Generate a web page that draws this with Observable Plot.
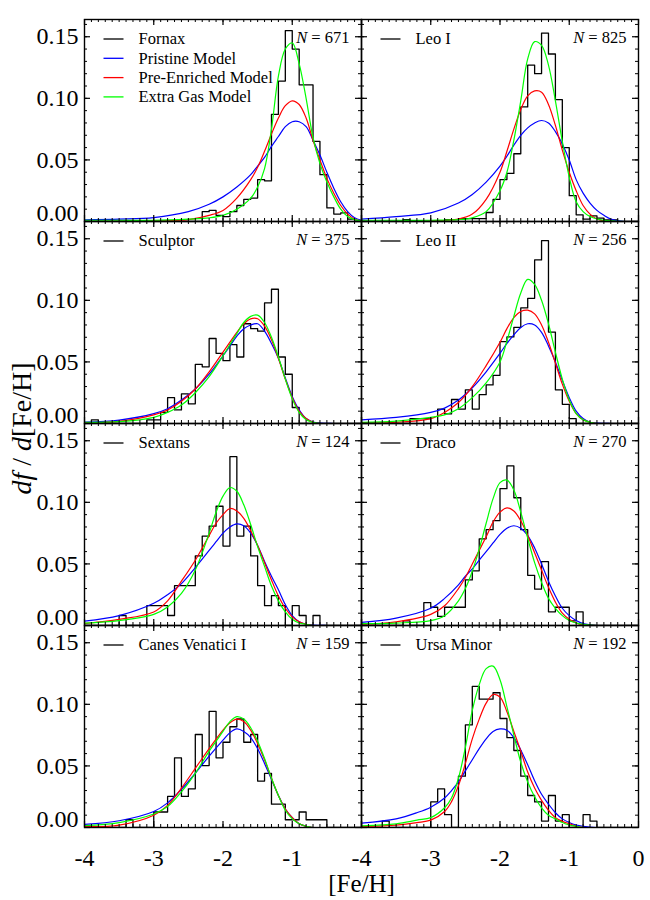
<!DOCTYPE html>
<html>
<head>
<meta charset="utf-8">
<script src="https://cdn.jsdelivr.net/npm/d3@7"></script>
<script src="https://cdn.jsdelivr.net/npm/@observablehq/plot@0.6"></script>
<style>
  body { margin: 0; background: #fff; }
  #chart { width: 650px; height: 900px; }
</style>
</head>
<body>
<div id="chart"></div>
<script>
// ---------- data ----------
const galaxies = ["Fornax", "Leo I", "Sculptor", "Leo II", "Sextans", "Draco", "Canes Venatici I", "Ursa Minor"];
const starCounts = [671, 825, 375, 256, 124, 270, 159, 192];
const modelNames = ["Pristine Model", "Pre-Enriched Model", "Extra Gas Model"];
const modelColors = ["#0000ff", "#ff0000", "#00ff00"];

// histogram heights, bins of 0.1 dex with left edges -4.0, -3.9, ..., -0.1
const histFornax = [
  0,0,0,0,0,0,0,0,0,0,
  0,0,0,0,0,0,0,.008,.009,.005,
  .004,.008,.013,.018,.019,.034,.033,.087,.114,.155,
  .140,.111,.111,.065,.038,.011,.006,.007,.002,0];
const histLeoI = [
  0,0,0,0,0,0,.0015,0,0,0,
  0,0,.0015,.0015,.0024,.0024,.0024,.0024,.0073,.018,
  .034,.039,.055,.093,.127,.120,.153,.136,.099,.060,
  .021,.0054,.0019,.0046,.0027,.0012,.0012,0,0,0];
const histSculptor = [
  0,.003,0,0,0,0,0,0,0,.003,
  .003,.009,.021,.011,.024,.016,.048,.046,.069,.057,
  .051,.064,.054,.081,.077,.075,.098,.109,.054,.040,
  .013,0,0,0,0,0,0,0,0,0];
const histLeoII = [
  0,0,0,0,0,0,0,.0039,.0039,.0039,
  0,.0117,.0078,.0195,.0117,.0273,.0117,.0234,.0313,.0391,
  .0664,.0703,.0781,.0938,.1016,.1328,.1484,.0742,.0273,.0156,
  .0039,0,0,0,0,0,0,0,0,0];
const histSextans = [
  0,0,0,0,0,.0081,0,0,0,.0161,
  .0161,.0161,.0081,.0323,.0323,.0323,.0565,.0726,.0806,.0968,
  .0645,.1371,.0726,.0806,.0565,.0323,.0161,.0242,.0161,0,
  .0161,.0081,0,.0081,0,0,0,0,0,0];
const histDraco = [
  0,0,0,0,0,0,.0037,0,0,.0185,
  .0148,.0074,.0148,.0148,.0148,.0370,.0444,.0704,.0778,.0852,
  .1111,.1296,.1037,.0778,.0407,.0296,.0519,.0111,.0148,.0148,
  .0037,.0111,0,0,0,0,0,0,0,0];
const histCVn = [
  0,0,0,0,0,0,.0063,0,0,0,
  .0126,.0126,.0252,.0566,.0252,.0314,.0755,.0503,.0943,.0566,
  .0692,.0818,.0881,.0692,.0755,.0377,.0440,.0189,.0189,.0063,
  .0063,.0126,.0063,.0063,.0063,0,0,0,0,0];
const histUMi = [
  0,0,0,.0052,0,0,0,0,0,0,
  .0208,.0313,.0104,0,.0417,.0833,.1146,.1042,.1042,.1094,
  .0885,.0729,.0625,.0417,.0260,.0208,.0052,.0260,.0052,.0104,
  0,0,.0104,.0052,0,0,0,0,0,0];

const gridFornax = [-4,-3.5,-3,-2.5,-2.2,-2.0,-1.8,-1.6,-1.5,-1.4,-1.3,-1.2,-1.1,-1.0,-0.9,-0.8,-0.7,-0.6,-0.5,-0.4,-0.3,-0.2,-0.1,0];
const pristineFornax = [.0014,.002,.0032,.008,.014,.020,.028,.038,.045,.052,.061,.069,.077,.081,.081,.077,.066,.054,.040,.027,.016,.008,.003,.001];
const preFornax = [0,.0002,.0005,.0015,.005,.009,.019,.034,.044,.057,.071,.084,.094,.098,.095,.084,.066,.050,.035,.023,.013,.006,.002,.0005];
const gasFornax = [.001,.001,.001,.002,.003,.005,.010,.019,.028,.043,.075,.118,.140,.145,.128,.100,.068,.047,.032,.020,.010,.004,.0015,.0005];

const gridLeoI = [-4,-3.5,-3,-2.6,-2.4,-2.2,-2.0,-1.9,-1.8,-1.7,-1.6,-1.5,-1.4,-1.3,-1.2,-1.1,-1.0,-0.9,-0.8,-0.7,-0.6,-0.5,-0.4,-0.2,0];
const pristineLeoI = [.002,.004,.007,.015,.022,.032,.045,.053,.062,.070,.076,.080,.082,.080,.073,.063,.050,.034,.023,.015,.009,.005,.002,0,0];
const preLeoI = [0,0,.0003,.002,.006,.018,.040,.057,.075,.091,.102,.106,.105,.095,.078,.058,.040,.025,.013,.006,.002,.0005,0,0,0];
const gasLeoI = [.001,.001,.001,.0015,.003,.008,.025,.040,.066,.098,.132,.146,.143,.127,.098,.065,.036,.016,.008,.004,.002,.001,.0005,0,0];

const gridSculptor = [-4,-3.5,-3,-2.8,-2.6,-2.4,-2.2,-2.0,-1.9,-1.8,-1.7,-1.6,-1.5,-1.4,-1.3,-1.2,-1.1,-1.0,-0.9,-0.8,-0.7,-0.6,-0.4,0];
const pristineSculptor = [.0012,.0028,.008,.012,.019,.028,.040,.055,.063,.071,.077,.080,.081,.075,.065,.053,.037,.022,.011,.004,.0012,.0003,0,0];
const preSculptor = [.0005,.0018,.007,.011,.018,.028,.042,.058,.066,.074,.081,.085,.085,.079,.068,.053,.036,.021,.010,.004,.001,0,0,0];
const gasSculptor = [.001,.0015,.005,.009,.015,.025,.038,.055,.064,.073,.082,.087,.088,.082,.070,.054,.036,.020,.009,.003,.001,0,0,0];

const gridLeoII = [-4,-3.5,-3,-2.8,-2.6,-2.4,-2.2,-2.0,-1.9,-1.8,-1.7,-1.6,-1.5,-1.4,-1.3,-1.2,-1.1,-1.0,-0.9,-0.8,-0.7,-0.6,-0.4,0];
const pristineLeoII = [.003,.005,.009,.0125,.019,.029,.042,.057,.065,.072,.078,.081,.080,.074,.063,.050,.035,.021,.010,.004,.001,.0003,0,0];
const preLeoII = [.0005,.001,.004,.009,.017,.030,.047,.066,.077,.086,.091,.092,.089,.080,.066,.049,.032,.018,.008,.003,.001,0,0,0];
const gasLeoII = [.001,.002,.005,.007,.012,.021,.033,.050,.067,.087,.106,.117,.113,.100,.081,.058,.036,.019,.008,.003,.001,0,0,0];

const gridSextans = [-4,-3.5,-3,-2.8,-2.6,-2.4,-2.2,-2.1,-2.0,-1.9,-1.8,-1.7,-1.6,-1.5,-1.4,-1.3,-1.2,-1.1,-1.0,-0.9,-0.8,-0.7,-0.5,0];
const pristineSextans = [.0035,.008,.018,.025,.034,.047,.061,.068,.075,.080,.0825,.081,.075,.065,.052,.040,.029,.017,.008,.003,.001,.0003,0,0];
const preSextans = [.0016,.005,.011,.020,.036,.053,.073,.083,.090,.095,.093,.087,.077,.065,.051,.037,.024,.014,.007,.003,.001,0,0,0];
const gasSextans = [.002,.004,.009,.015,.026,.045,.075,.092,.105,.112,.109,.098,.082,.064,.048,.032,.020,.011,.005,.002,.001,0,0,0];

const gridDraco = [-4,-3.5,-3,-2.8,-2.6,-2.5,-2.4,-2.3,-2.2,-2.1,-2.0,-1.9,-1.8,-1.7,-1.6,-1.5,-1.4,-1.3,-1.2,-1.1,-1.0,-0.9,-0.8,-0.6,0];
const pristineDraco = [.0025,.006,.014,.022,.033,.040,.046,.053,.060,.067,.074,.079,.081,.079,.073,.063,.050,.036,.024,.014,.008,.004,.0015,0,0];
const preDraco = [.001,.003,.009,.016,.030,.039,.050,.061,.072,.084,.092,.0955,.093,.085,.073,.059,.045,.031,.019,.010,.005,.002,.0005,0,0];
const gasDraco = [.0015,.002,.004,.008,.020,.030,.044,.062,.083,.103,.116,.118,.110,.092,.071,.051,.035,.022,.014,.008,.004,.002,.001,0,0];

const gridCVn = [-4,-3.5,-3,-2.8,-2.6,-2.4,-2.2,-2.0,-1.9,-1.8,-1.7,-1.6,-1.5,-1.4,-1.3,-1.2,-1.1,-1.0,-0.9,-0.8,-0.7,-0.5,0];
const pristineCVn = [.0025,.0055,.013,.020,.031,.044,.058,.071,.077,.080,.078,.073,.064,.052,.039,.026,.015,.008,.003,.001,0,0,0];
const preCVn = [.0008,.002,.010,.018,.032,.048,.064,.079,.085,.088,.086,.079,.068,.055,.040,.026,.015,.008,.003,.001,0,0,0];
const gasCVn = [.0015,.004,.011,.017,.029,.044,.062,.078,.086,.090,.088,.081,.070,.056,.040,.026,.014,.007,.003,.001,0,0,0];

const gridUMi = [-4,-3.5,-3.2,-3,-2.8,-2.7,-2.6,-2.5,-2.4,-2.3,-2.2,-2.1,-2.0,-1.9,-1.8,-1.7,-1.6,-1.5,-1.4,-1.3,-1.2,-1.1,-1.0,-0.9,-0.8,-0.6,0];
const pristineUMi = [.0035,.007,.012,.0165,.024,.030,.037,.046,.055,.064,.072,.078,.080,.079,.073,.063,.051,.038,.027,.019,.012,.007,.004,.002,.001,0,0];
const preUMi = [.0008,.002,.004,.006,.013,.021,.034,.052,.072,.088,.101,.108,.106,.094,.078,.062,.045,.032,.022,.014,.008,.005,.003,.001,0,0,0];
const gasUMi = [.0014,.003,.006,.008,.016,.024,.040,.065,.095,.116,.129,.131,.120,.098,.075,.053,.037,.025,.016,.010,.007,.004,.002,.001,0,0,0];

// axis ticks and labels
const xTickLabelsLeft = [-4, -3, -2, -1];
const xTickLabelsRight = [-4, -3, -2, -1, 0];
const yTickValues = [0.15, 0.10, 0.05];
const yTickLabels = ["0.15", "0.10", "0.05"];
const yZeroLabel = "0.00";

// ---------- layout ----------
const W = 650, H = 900;
const mL = 84, mR = 12, mT = 18.5, mB = 73.5;
const facetW = (W - mL - mR) / 2;
const facetH = (H - mT - mB) / 4;
const FONT = "'Liberation Serif', 'Times New Roman', Times, serif";

// ---------- assemble rows ----------
const hists = [histFornax, histLeoI, histSculptor, histLeoII, histSextans, histDraco, histCVn, histUMi];
const grids = [gridFornax, gridLeoI, gridSculptor, gridLeoII, gridSextans, gridDraco, gridCVn, gridUMi];
const models = [
  [pristineFornax, pristineLeoI, pristineSculptor, pristineLeoII, pristineSextans, pristineDraco, pristineCVn, pristineUMi],
  [preFornax, preLeoI, preSculptor, preLeoII, preSextans, preDraco, preCVn, preUMi],
  [gasFornax, gasLeoI, gasSculptor, gasLeoII, gasSextans, gasDraco, gasCVn, gasUMi]
];
const binLeft = d3.range(40).map(i => Math.round(-40 + i) / 10);

const panels = galaxies.map((name, p) => ({p, name, n: starCounts[p], col: p % 2, row: Math.floor(p / 2)}));

const histRows = [];
panels.forEach(({p, col, row}) => {
  hists[p].forEach((v, i) => histRows.push({p, col, row, x: binLeft[i], y: v}));
  histRows.push({p, col, row, x: 0, y: hists[p][39]});
});

const modelRows = models.map(series => {
  const rows = [];
  panels.forEach(({p, col, row}) => {
    grids[p].forEach((x, i) => rows.push({p, col, row, x, y: series[p][i]}));
  });
  return rows;
});

const xMajor = [-4, -3, -2, -1, 0];
const xMinor = d3.range(0, 41).map(i => Math.round(-40 + i) / 10);
const yMajor = [0, 0.05, 0.10, 0.15];
const yMinor = d3.range(0, 17).map(i => i / 100);

const xTickRows = [
  ...xTickLabelsLeft.map(v => ({col: 0, row: 3, v})),
  ...xTickLabelsRight.map(v => ({col: 1, row: 3, v}))
];
const yTickRows = [];
const yZeroRows = [];
for (let r = 0; r < 4; r++) {
  yTickValues.forEach((v, i) => yTickRows.push({col: 0, row: r, v, label: yTickLabels[i]}));
  yZeroRows.push({col: 0, row: r, v: 0, label: yZeroLabel});
}

// legend rows: first panel lists the models too
const legendLabelRows = [[], [], [], []];
const legendColorsByRow = ["black", ...modelColors];
panels.forEach(d => legendLabelRows[0].push({col: d.col, row: d.row, label: d.name}));
modelNames.forEach((m, i) => legendLabelRows[i + 1].push({col: 0, row: 0, label: m}));

const hline = {
  draw(context, size) {
    const r = Math.sqrt(size / Math.PI);
    context.moveTo(-r, 0);
    context.lineTo(r, 0);
  }
};

const LEG_DY0 = 19.5, LEG_STEP = 19.3, LEG_FS = 16.5;

const marks = [
  Plot.line(histRows, {x: "x", y: "y", z: "p", fx: "col", fy: "row", curve: "step-after",
    stroke: "black", strokeWidth: 1.3, clip: true}),
  ...modelRows.map((rows, m) => Plot.line(rows, {x: "x", y: "y", z: "p", fx: "col", fy: "row",
    curve: "catmull-rom", stroke: modelColors[m], strokeWidth: 1.2, clip: true})),
  Plot.frame({stroke: "black", strokeWidth: 1.4}),
  // inward ticks on all four sides
  Plot.tickX(xMinor, {x: d => d, insetTop: facetH - 3, stroke: "black", strokeWidth: 1}),
  Plot.tickX(xMinor, {x: d => d, insetBottom: facetH - 3, stroke: "black", strokeWidth: 1}),
  Plot.tickX(xMajor, {x: d => d, insetTop: facetH - 6, stroke: "black", strokeWidth: 1.2}),
  Plot.tickX(xMajor, {x: d => d, insetBottom: facetH - 6, stroke: "black", strokeWidth: 1.2}),
  Plot.tickY(yMinor, {y: d => d, insetRight: facetW - 3, stroke: "black", strokeWidth: 1}),
  Plot.tickY(yMinor, {y: d => d, insetLeft: facetW - 3, stroke: "black", strokeWidth: 1}),
  Plot.tickY(yMajor, {y: d => d, insetRight: facetW - 6, stroke: "black", strokeWidth: 1.2}),
  Plot.tickY(yMajor, {y: d => d, insetLeft: facetW - 6, stroke: "black", strokeWidth: 1.2}),
  // tick labels
  Plot.text(xTickRows, {x: "v", fx: "col", fy: "row", text: d => String(d.v), frameAnchor: "bottom",
    dy: 38, lineAnchor: "bottom", fontSize: 24, fontFamily: FONT, fill: "black"}),
  Plot.text(yTickRows, {y: "v", fx: "col", fy: "row", text: "label", frameAnchor: "left",
    dx: -6, textAnchor: "end", lineAnchor: "middle", fontSize: 24, fontFamily: FONT, fill: "black"}),
  Plot.text(yZeroRows, {y: "v", fx: "col", fy: "row", text: "label", frameAnchor: "left",
    dx: -6, dy: -8, textAnchor: "end", lineAnchor: "middle", fontSize: 24, fontFamily: FONT, fill: "black"}),
  // legends
  ...legendLabelRows.map((rows, i) => Plot.dot(rows, {fx: "col", fy: "row", frameAnchor: "top-left",
    dx: 29, dy: LEG_DY0 + LEG_STEP * i, symbol: hline, r: 10, fill: "none",
    stroke: legendColorsByRow[i], strokeWidth: 1.3})),
  ...legendLabelRows.map((rows, i) => Plot.text(rows, {fx: "col", fy: "row", text: "label",
    frameAnchor: "top-left", dx: 54, dy: LEG_DY0 + LEG_STEP * i, textAnchor: "start", lineAnchor: "middle",
    fontSize: LEG_FS, fontFamily: FONT, fill: "black"})),
  Plot.text(panels, {fx: "col", fy: "row", text: d => "N = " + d.n, frameAnchor: "top-right",
    dx: -12, dy: 18, textAnchor: "end", lineAnchor: "middle", fontSize: LEG_FS, fontFamily: FONT, fill: "black"}),
  // axis titles
  Plot.text([{col: 0, row: 3}], {fx: "col", fy: "row", text: () => "[Fe/H]", frameAnchor: "bottom-right",
    dy: 64.5, textAnchor: "middle", lineAnchor: "bottom", fontSize: 25, fontFamily: FONT, fill: "black"}),
  Plot.text([{col: 0, row: 1}], {fx: "col", fy: "row", text: () => "df / d[Fe/H]", frameAnchor: "bottom-left",
    dx: -62, dy: 5, rotate: -90, textAnchor: "middle", lineAnchor: "middle", fontSize: 28, fontFamily: FONT, fill: "black"})
];

const chart = Plot.plot({
  width: W, height: H,
  marginLeft: mL, marginRight: mR, marginTop: mT, marginBottom: mB,
  style: {fontFamily: FONT, background: "white", color: "black"},
  fx: {domain: [0, 1], padding: 0, axis: null},
  fy: {domain: [0, 1, 2, 3], padding: 0, axis: null},
  x: {domain: [-4, 0], axis: null},
  y: {domain: [0, 0.164], axis: null},
  marks
});

// italic math letters
d3.select(chart).selectAll("text").each(function () {
  const el = d3.select(this);
  const t = this.textContent;
  if (t.startsWith("N = ")) {
    el.text(null);
    el.append("tspan").attr("font-style", "italic").text("N");
    el.append("tspan").text(t.slice(1));
  } else if (t === "df / d[Fe/H]") {
    el.text(null);
    el.append("tspan").attr("font-style", "italic").text("df");
    el.append("tspan").text(" / ");
    el.append("tspan").attr("font-style", "italic").text("d");
    el.append("tspan").text("[Fe/H]");
  }
});

document.getElementById("chart").appendChild(chart);
</script>
</body>
</html>
